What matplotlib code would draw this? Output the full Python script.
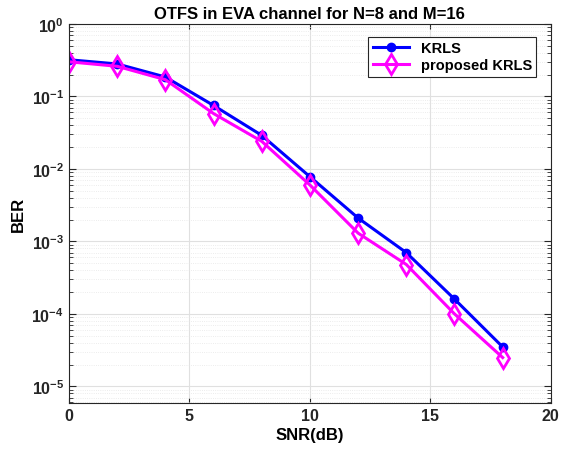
import matplotlib
matplotlib.use('Agg')
import matplotlib.pyplot as plt
import numpy as np
from matplotlib.ticker import LogLocator, NullFormatter

plt.rcParams['font.family'] = 'Liberation Sans'
plt.rcParams['font.weight'] = 'bold'
plt.rcParams['mathtext.fontset'] = 'custom'
plt.rcParams['mathtext.rm'] = 'Liberation Sans:bold'
plt.rcParams['mathtext.default'] = 'rm'

# data
snr = [0, 2, 4, 6, 8, 10, 12, 14, 16, 18]
ber_krls = [0.32, 0.28, 0.185, 0.075, 0.029, 0.0078, 0.0021, 0.0007, 0.00016, 0.000035]
ber_prop = [0.30, 0.26, 0.17, 0.058, 0.024, 0.006, 0.0013, 0.00048, 0.0001, 0.000025]

fig = plt.figure(figsize=(5.65, 4.52), dpi=100)
ax = fig.add_axes([0.122, 0.106, 0.853, 0.839])

ax.semilogy(snr, ber_krls, color='blue', lw=2.2, marker='o', ms=6, label='KRLS')
ax.semilogy(snr, ber_prop, color='magenta', lw=2.2, marker='d', ms=10,
            mfc='none', mew=2, label='proposed KRLS')

ax.set_xlim(0, 20)
ax.set_ylim(10**-5.23, 1)
ax.set_xticks([0, 5, 10, 15, 20])
ax.yaxis.set_major_locator(LogLocator(base=10, numticks=10))
ax.yaxis.set_minor_locator(LogLocator(base=10, subs=np.arange(2, 10), numticks=20))
ax.yaxis.set_minor_formatter(NullFormatter())

ax.grid(True, which='major', color='#e0e0e0', lw=0.8)
ax.grid(True, which='minor', color='#e6e6e6', lw=0.6, ls=':')
ax.set_axisbelow(True)
ax.tick_params(which='both', direction='in', top=True, right=True, labelsize=11.5, colors='#262626')
ax.tick_params(axis='y', which='major', length=5)
ax.tick_params(axis='y', which='minor', length=3)
for s in ax.spines.values():
    s.set_color('#262626')
    s.set_linewidth(0.8)

ax.set_xlabel('SNR(dB)', fontsize=12, fontweight='bold', labelpad=3)
ax.set_ylabel('BER', fontsize=12, fontweight='bold')
ax.set_title('OTFS in EVA channel for N=8 and M=16', fontsize=12, fontweight='bold', pad=4)

leg = ax.legend(loc='upper right', fontsize=10.5, fancybox=False, framealpha=1,
                edgecolor='#262626', handlelength=2.5, borderpad=0.3, labelspacing=0.2,
                bbox_to_anchor=(0.985, 0.985))
leg.get_frame().set_linewidth(0.8)

fig.savefig('out.png', dpi=100)
